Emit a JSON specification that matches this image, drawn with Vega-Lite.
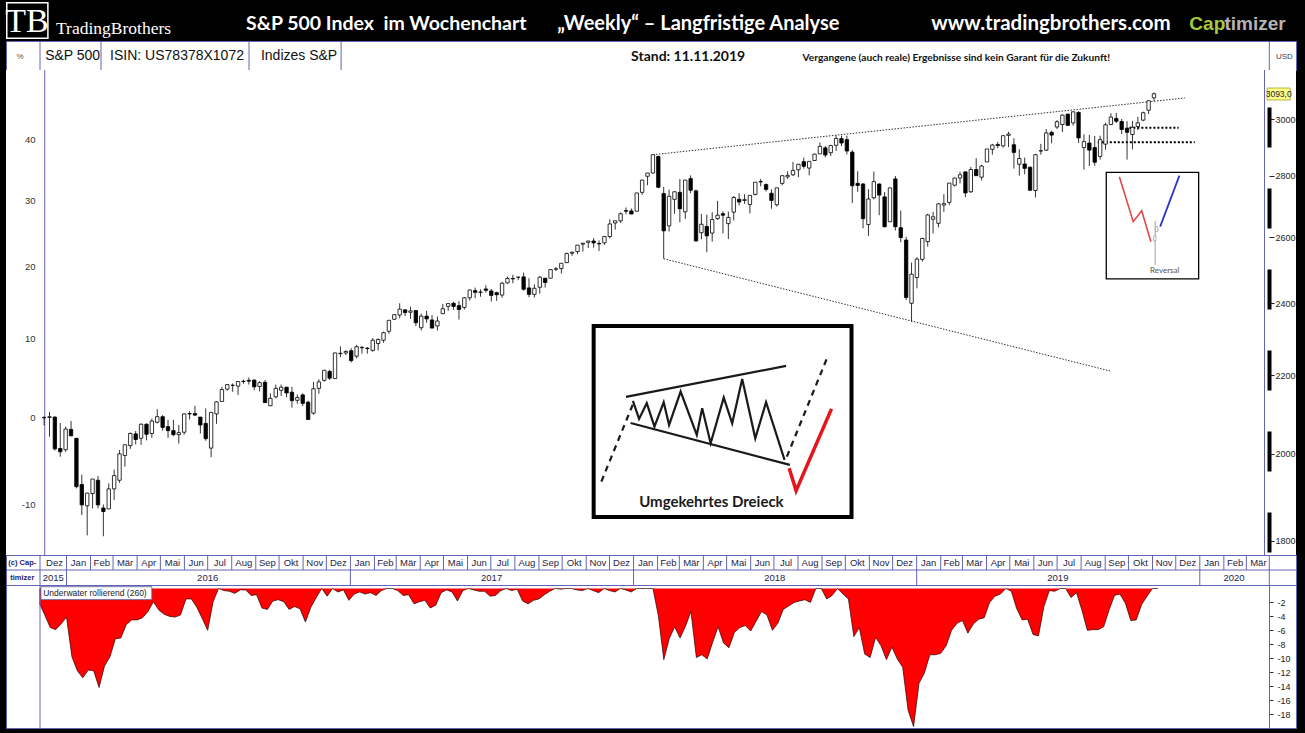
{
"$schema":"https://vega.github.io/schema/vega-lite/v6.json",
"background":"black",
"padding":{"left":5,"right":10,"top":0,"bottom":5},
"spacing":0,
"bounds":"flush",
"config":{"view":{"stroke":null},"axis":{"grid":false,"title":null}},
"datasets":{
"w":[
{"d":"2015-11-27","o":2089,"h":2094,"l":2070,"c":2090,"dd":-2.1},
{"d":"2015-12-04","o":2090,"h":2104,"l":2042,"c":2092,"dd":-3.8},
{"d":"2015-12-11","o":2091,"h":2093,"l":2008,"c":2012,"dd":-5.6},
{"d":"2015-12-18","o":2013,"h":2076,"l":1993,"c":2005,"dd":-5.9},
{"d":"2015-12-25","o":2010,"h":2067,"l":2005,"c":2061,"dd":-5.1},
{"d":"2016-01-01","o":2060,"h":2081,"l":2044,"c":2044,"dd":-4.1},
{"d":"2016-01-08","o":2038,"h":2038,"l":1918,"c":1922,"dd":-9.8},
{"d":"2016-01-15","o":1927,"h":1950,"l":1857,"c":1880,"dd":-11.8},
{"d":"2016-01-22","o":1878,"h":1908,"l":1812,"c":1907,"dd":-12.8},
{"d":"2016-01-29","o":1906,"h":1940,"l":1872,"c":1940,"dd":-11.7},
{"d":"2016-02-05","o":1937,"h":1947,"l":1872,"c":1880,"dd":-11.8},
{"d":"2016-02-12","o":1873,"h":1881,"l":1810,"c":1865,"dd":-14.2},
{"d":"2016-02-19","o":1871,"h":1930,"l":1871,"c":1917,"dd":-11.1},
{"d":"2016-02-26","o":1917,"h":1962,"l":1891,"c":1948,"dd":-9.8},
{"d":"2016-03-04","o":1937,"h":2009,"l":1931,"c":2000,"dd":-7.2},
{"d":"2016-03-11","o":1996,"h":2022,"l":1969,"c":2022,"dd":-7.1},
{"d":"2016-03-18","o":2020,"h":2052,"l":2012,"c":2050,"dd":-5.2},
{"d":"2016-03-25","o":2049,"h":2056,"l":2023,"c":2035,"dd":-4.5},
{"d":"2016-04-01","o":2038,"h":2075,"l":2022,"c":2073,"dd":-4.5},
{"d":"2016-04-08","o":2073,"h":2075,"l":2033,"c":2048,"dd":-4.2},
{"d":"2016-04-15","o":2050,"h":2087,"l":2039,"c":2081,"dd":-3.3},
{"d":"2016-04-22","o":2078,"h":2111,"l":2075,"c":2092,"dd":-1.9},
{"d":"2016-04-29","o":2092,"h":2096,"l":2057,"c":2065,"dd":-3.1},
{"d":"2016-05-06","o":2067,"h":2084,"l":2039,"c":2057,"dd":-3.7},
{"d":"2016-05-13","o":2057,"h":2084,"l":2043,"c":2047,"dd":-4.0},
{"d":"2016-05-20","o":2047,"h":2071,"l":2025,"c":2052,"dd":-4.1},
{"d":"2016-05-27","o":2053,"h":2100,"l":2047,"c":2099,"dd":-3.8},
{"d":"2016-06-03","o":2100,"h":2106,"l":2085,"c":2099,"dd":-1.5},
{"d":"2016-06-10","o":2100,"h":2120,"l":2094,"c":2096,"dd":-1.5},
{"d":"2016-06-17","o":2091,"h":2091,"l":2050,"c":2071,"dd":-2.7},
{"d":"2016-06-24","o":2075,"h":2113,"l":2032,"c":2037,"dd":-4.3},
{"d":"2016-07-01","o":2014,"h":2103,"l":1992,"c":2103,"dd":-6.0},
{"d":"2016-07-08","o":2099,"h":2132,"l":2074,"c":2130,"dd":-1.9},
{"d":"2016-07-15","o":2131,"h":2169,"l":2131,"c":2162,"dd":0},
{"d":"2016-07-22","o":2163,"h":2175,"l":2159,"c":2175,"dd":-0.3},
{"d":"2016-07-29","o":2173,"h":2178,"l":2156,"c":2173,"dd":-0.4},
{"d":"2016-08-05","o":2171,"h":2183,"l":2148,"c":2183,"dd":-0.7},
{"d":"2016-08-12","o":2183,"h":2188,"l":2177,"c":2184,"dd":-0.2},
{"d":"2016-08-19","o":2186,"h":2194,"l":2175,"c":2184,"dd":-0.2},
{"d":"2016-08-26","o":2187,"h":2188,"l":2160,"c":2169,"dd":-1.0},
{"d":"2016-09-02","o":2170,"h":2184,"l":2157,"c":2180,"dd":-0.9},
{"d":"2016-09-09","o":2181,"h":2187,"l":2127,"c":2128,"dd":-2.8},
{"d":"2016-09-16","o":2120,"h":2152,"l":2119,"c":2139,"dd":-3.0},
{"d":"2016-09-23","o":2143,"h":2175,"l":2139,"c":2165,"dd":-1.8},
{"d":"2016-09-30","o":2160,"h":2175,"l":2145,"c":2168,"dd":-1.6},
{"d":"2016-10-07","o":2168,"h":2169,"l":2142,"c":2153,"dd":-1.9},
{"d":"2016-10-14","o":2155,"h":2169,"l":2115,"c":2133,"dd":-3.0},
{"d":"2016-10-21","o":2134,"h":2149,"l":2125,"c":2141,"dd":-2.6},
{"d":"2016-10-28","o":2148,"h":2152,"l":2119,"c":2126,"dd":-2.9},
{"d":"2016-11-04","o":2129,"h":2133,"l":2084,"c":2085,"dd":-4.8},
{"d":"2016-11-11","o":2101,"h":2182,"l":2097,"c":2164,"dd":-2.7},
{"d":"2016-11-18","o":2165,"h":2189,"l":2151,"c":2182,"dd":-1.3},
{"d":"2016-11-25","o":2186,"h":2214,"l":2183,"c":2213,"dd":0},
{"d":"2016-12-02","o":2210,"h":2214,"l":2187,"c":2192,"dd":-1.1},
{"d":"2016-12-09","o":2191,"h":2260,"l":2191,"c":2260,"dd":0},
{"d":"2016-12-16","o":2259,"h":2278,"l":2248,"c":2258,"dd":-0.5},
{"d":"2016-12-23","o":2260,"h":2267,"l":2254,"c":2264,"dd":-0.2},
{"d":"2016-12-30","o":2266,"h":2273,"l":2234,"c":2239,"dd":-1.7},
{"d":"2017-01-06","o":2251,"h":2282,"l":2245,"c":2277,"dd":-0.8},
{"d":"2017-01-13","o":2274,"h":2279,"l":2258,"c":2275,"dd":-0.5},
{"d":"2017-01-20","o":2273,"h":2276,"l":2258,"c":2272,"dd":-0.8},
{"d":"2017-01-27","o":2267,"h":2301,"l":2263,"c":2295,"dd":-0.6},
{"d":"2017-02-03","o":2286,"h":2300,"l":2267,"c":2297,"dd":-1.0},
{"d":"2017-02-10","o":2295,"h":2319,"l":2288,"c":2316,"dd":-0.3},
{"d":"2017-02-17","o":2320,"h":2351,"l":2313,"c":2351,"dd":0},
{"d":"2017-02-24","o":2354,"h":2368,"l":2352,"c":2367,"dd":0},
{"d":"2017-03-03","o":2366,"h":2400,"l":2357,"c":2383,"dd":-0.3},
{"d":"2017-03-10","o":2381,"h":2382,"l":2363,"c":2373,"dd":-1.0},
{"d":"2017-03-17","o":2374,"h":2390,"l":2355,"c":2378,"dd":-0.9},
{"d":"2017-03-24","o":2379,"h":2379,"l":2335,"c":2344,"dd":-2.2},
{"d":"2017-03-31","o":2330,"h":2370,"l":2322,"c":2363,"dd":-1.9},
{"d":"2017-04-07","o":2363,"h":2378,"l":2344,"c":2355,"dd":-1.7},
{"d":"2017-04-14","o":2352,"h":2366,"l":2328,"c":2329,"dd":-2.8},
{"d":"2017-04-21","o":2335,"h":2362,"l":2322,"c":2349,"dd":-2.4},
{"d":"2017-04-28","o":2370,"h":2398,"l":2370,"c":2384,"dd":-0.6},
{"d":"2017-05-05","o":2391,"h":2399,"l":2378,"c":2399,"dd":-0.2},
{"d":"2017-05-12","o":2400,"h":2404,"l":2381,"c":2391,"dd":-0.5},
{"d":"2017-05-19","o":2393,"h":2406,"l":2353,"c":2382,"dd":-1.8},
{"d":"2017-05-26","o":2388,"h":2418,"l":2382,"c":2416,"dd":-0.3},
{"d":"2017-06-02","o":2416,"h":2440,"l":2408,"c":2439,"dd":0},
{"d":"2017-06-09","o":2437,"h":2446,"l":2415,"c":2432,"dd":-0.2},
{"d":"2017-06-16","o":2432,"h":2441,"l":2419,"c":2433,"dd":-0.4},
{"d":"2017-06-23","o":2442,"h":2453,"l":2431,"c":2438,"dd":-0.4},
{"d":"2017-06-30","o":2436,"h":2442,"l":2405,"c":2423,"dd":-1.1},
{"d":"2017-07-07","o":2431,"h":2434,"l":2407,"c":2425,"dd":-1.0},
{"d":"2017-07-14","o":2424,"h":2463,"l":2416,"c":2459,"dd":-0.3},
{"d":"2017-07-21","o":2460,"h":2479,"l":2458,"c":2473,"dd":0},
{"d":"2017-07-28","o":2473,"h":2484,"l":2459,"c":2472,"dd":-0.3},
{"d":"2017-08-04","o":2477,"h":2478,"l":2468,"c":2477,"dd":-0.1},
{"d":"2017-08-11","o":2478,"h":2491,"l":2437,"c":2441,"dd":-1.8},
{"d":"2017-08-18","o":2445,"h":2474,"l":2418,"c":2426,"dd":-2.2},
{"d":"2017-08-25","o":2426,"h":2456,"l":2417,"c":2444,"dd":-1.7},
{"d":"2017-09-01","o":2447,"h":2480,"l":2428,"c":2477,"dd":-1.5},
{"d":"2017-09-08","o":2474,"h":2474,"l":2446,"c":2461,"dd":-0.9},
{"d":"2017-09-15","o":2474,"h":2500,"l":2474,"c":2500,"dd":-0.4},
{"d":"2017-09-22","o":2501,"h":2508,"l":2496,"c":2502,"dd":0},
{"d":"2017-09-29","o":2503,"h":2519,"l":2488,"c":2519,"dd":-0.1},
{"d":"2017-10-06","o":2521,"h":2552,"l":2520,"c":2549,"dd":0},
{"d":"2017-10-13","o":2550,"h":2555,"l":2542,"c":2553,"dd":0},
{"d":"2017-10-20","o":2555,"h":2575,"l":2547,"c":2575,"dd":-0.2},
{"d":"2017-10-27","o":2578,"h":2582,"l":2555,"c":2581,"dd":-0.3},
{"d":"2017-11-03","o":2584,"h":2588,"l":2566,"c":2588,"dd":0},
{"d":"2017-11-10","o":2588,"h":2597,"l":2567,"c":2582,"dd":-0.3},
{"d":"2017-11-17","o":2580,"h":2590,"l":2557,"c":2579,"dd":-0.6},
{"d":"2017-11-24","o":2582,"h":2604,"l":2576,"c":2602,"dd":0},
{"d":"2017-12-01","o":2602,"h":2657,"l":2596,"c":2642,"dd":-0.3},
{"d":"2017-12-08","o":2645,"h":2652,"l":2624,"c":2652,"dd":-0.5},
{"d":"2017-12-15","o":2652,"h":2679,"l":2645,"c":2675,"dd":0},
{"d":"2017-12-22","o":2685,"h":2695,"l":2673,"c":2683,"dd":-0.2},
{"d":"2017-12-29","o":2684,"h":2692,"l":2673,"c":2674,"dd":-0.5},
{"d":"2018-01-05","o":2683,"h":2743,"l":2683,"c":2743,"dd":0},
{"d":"2018-01-12","o":2745,"h":2787,"l":2737,"c":2786,"dd":0},
{"d":"2018-01-19","o":2799,"h":2810,"l":2769,"c":2810,"dd":0},
{"d":"2018-01-26","o":2810,"h":2873,"l":2808,"c":2873,"dd":0},
{"d":"2018-02-02","o":2867,"h":2870,"l":2759,"c":2762,"dd":-3.9},
{"d":"2018-02-09","o":2741,"h":2763,"l":2533,"c":2620,"dd":-10.2},
{"d":"2018-02-16","o":2636,"h":2754,"l":2618,"c":2732,"dd":-7.2},
{"d":"2018-02-23","o":2722,"h":2747,"l":2675,"c":2747,"dd":-5.5},
{"d":"2018-03-02","o":2745,"h":2790,"l":2647,"c":2691,"dd":-7.1},
{"d":"2018-03-09","o":2681,"h":2787,"l":2658,"c":2786,"dd":-5.4},
{"d":"2018-03-16","o":2791,"h":2802,"l":2742,"c":2752,"dd":-3.3},
{"d":"2018-03-23","o":2750,"h":2754,"l":2586,"c":2588,"dd":-9.9},
{"d":"2018-03-30","o":2614,"h":2674,"l":2593,"c":2641,"dd":-9.5},
{"d":"2018-04-06","o":2634,"h":2672,"l":2553,"c":2604,"dd":-10.1},
{"d":"2018-04-13","o":2613,"h":2680,"l":2586,"c":2656,"dd":-7.7},
{"d":"2018-04-20","o":2659,"h":2717,"l":2655,"c":2670,"dd":-5.5},
{"d":"2018-04-27","o":2675,"h":2683,"l":2612,"c":2670,"dd":-7.8},
{"d":"2018-05-04","o":2643,"h":2682,"l":2594,"c":2663,"dd":-8.5},
{"d":"2018-05-11","o":2680,"h":2733,"l":2653,"c":2728,"dd":-6.3},
{"d":"2018-05-18","o":2722,"h":2742,"l":2702,"c":2713,"dd":-5.6},
{"d":"2018-05-25","o":2718,"h":2739,"l":2707,"c":2721,"dd":-5.3},
{"d":"2018-06-01","o":2705,"h":2736,"l":2676,"c":2735,"dd":-6.1},
{"d":"2018-06-08","o":2738,"h":2779,"l":2735,"c":2779,"dd":-4.7},
{"d":"2018-06-15","o":2781,"h":2790,"l":2765,"c":2780,"dd":-3.3},
{"d":"2018-06-22","o":2771,"h":2775,"l":2748,"c":2755,"dd":-3.8},
{"d":"2018-06-29","o":2742,"h":2755,"l":2691,"c":2718,"dd":-6.0},
{"d":"2018-07-06","o":2704,"h":2760,"l":2698,"c":2760,"dd":-5.0},
{"d":"2018-07-13","o":2775,"h":2801,"l":2768,"c":2801,"dd":-3.0},
{"d":"2018-07-20","o":2797,"h":2816,"l":2790,"c":2802,"dd":-2.5},
{"d":"2018-07-27","o":2804,"h":2848,"l":2800,"c":2819,"dd":-2.0},
{"d":"2018-08-03","o":2821,"h":2841,"l":2796,"c":2840,"dd":-1.8},
{"d":"2018-08-10","o":2849,"h":2863,"l":2825,"c":2833,"dd":-1.6},
{"d":"2018-08-17","o":2827,"h":2851,"l":2802,"c":2850,"dd":-2.0},
{"d":"2018-08-24","o":2853,"h":2877,"l":2851,"c":2875,"dd":0},
{"d":"2018-08-31","o":2876,"h":2916,"l":2876,"c":2902,"dd":0},
{"d":"2018-09-07","o":2897,"h":2903,"l":2864,"c":2872,"dd":-1.5},
{"d":"2018-09-14","o":2880,"h":2908,"l":2868,"c":2905,"dd":-1.0},
{"d":"2018-09-21","o":2906,"h":2941,"l":2886,"c":2930,"dd":0},
{"d":"2018-09-28","o":2930,"h":2940,"l":2903,"c":2914,"dd":-0.8},
{"d":"2018-10-05","o":2926,"h":2940,"l":2874,"c":2886,"dd":-1.5},
{"d":"2018-10-12","o":2882,"h":2889,"l":2710,"c":2767,"dd":-6.9},
{"d":"2018-10-19","o":2775,"h":2816,"l":2747,"c":2768,"dd":-5.6},
{"d":"2018-10-26","o":2773,"h":2776,"l":2628,"c":2659,"dd":-9.4},
{"d":"2018-11-02","o":2640,"h":2756,"l":2604,"c":2723,"dd":-9.9},
{"d":"2018-11-09","o":2727,"h":2815,"l":2722,"c":2781,"dd":-7.0},
{"d":"2018-11-16","o":2773,"h":2775,"l":2670,"c":2736,"dd":-8.2},
{"d":"2018-11-23","o":2730,"h":2746,"l":2631,"c":2633,"dd":-10.2},
{"d":"2018-11-30","o":2649,"h":2760,"l":2649,"c":2760,"dd":-8.4},
{"d":"2018-12-07","o":2790,"h":2800,"l":2621,"c":2633,"dd":-10.1},
{"d":"2018-12-14","o":2630,"h":2685,"l":2584,"c":2599,"dd":-11.3},
{"d":"2018-12-21","o":2591,"h":2601,"l":2409,"c":2417,"dd":-17.5},
{"d":"2018-12-28","o":2400,"h":2521,"l":2347,"c":2486,"dd":-19.8},
{"d":"2019-01-04","o":2476,"h":2538,"l":2444,"c":2532,"dd":-13.6},
{"d":"2019-01-11","o":2531,"h":2598,"l":2524,"c":2596,"dd":-12.1},
{"d":"2019-01-18","o":2586,"h":2675,"l":2570,"c":2671,"dd":-9.5},
{"d":"2019-01-25","o":2657,"h":2681,"l":2612,"c":2665,"dd":-9.5},
{"d":"2019-02-01","o":2644,"h":2709,"l":2631,"c":2707,"dd":-9.3},
{"d":"2019-02-08","o":2703,"h":2739,"l":2681,"c":2708,"dd":-8.2},
{"d":"2019-02-15","o":2712,"h":2776,"l":2704,"c":2776,"dd":-6.0},
{"d":"2019-02-22","o":2769,"h":2794,"l":2765,"c":2793,"dd":-5.0},
{"d":"2019-03-01","o":2793,"h":2814,"l":2775,"c":2804,"dd":-4.6},
{"d":"2019-03-08","o":2814,"h":2814,"l":2729,"c":2743,"dd":-6.4},
{"d":"2019-03-15","o":2747,"h":2831,"l":2743,"c":2822,"dd":-5.1},
{"d":"2019-03-22","o":2822,"h":2861,"l":2800,"c":2801,"dd":-4.4},
{"d":"2019-03-29","o":2796,"h":2838,"l":2785,"c":2834,"dd":-4.2},
{"d":"2019-04-05","o":2848,"h":2893,"l":2848,"c":2893,"dd":-2.0},
{"d":"2019-04-12","o":2892,"h":2911,"l":2873,"c":2907,"dd":-1.1},
{"d":"2019-04-19","o":2909,"h":2918,"l":2896,"c":2905,"dd":-0.8},
{"d":"2019-04-26","o":2904,"h":2940,"l":2898,"c":2940,"dd":0},
{"d":"2019-05-03","o":2941,"h":2954,"l":2900,"c":2946,"dd":-0.4},
{"d":"2019-05-10","o":2908,"h":2931,"l":2825,"c":2881,"dd":-2.9},
{"d":"2019-05-17","o":2840,"h":2892,"l":2801,"c":2860,"dd":-4.5},
{"d":"2019-05-24","o":2841,"h":2863,"l":2806,"c":2826,"dd":-4.4},
{"d":"2019-05-31","o":2830,"h":2832,"l":2750,"c":2752,"dd":-6.6},
{"d":"2019-06-07","o":2751,"h":2876,"l":2728,"c":2873,"dd":-6.8},
{"d":"2019-06-14","o":2886,"h":2911,"l":2873,"c":2887,"dd":-2.6},
{"d":"2019-06-21","o":2889,"h":2964,"l":2886,"c":2950,"dd":-0.3},
{"d":"2019-06-28","o":2952,"h":2958,"l":2913,"c":2942,"dd":-0.4},
{"d":"2019-07-05","o":2971,"h":2996,"l":2964,"c":2990,"dd":0},
{"d":"2019-07-12","o":2980,"h":3017,"l":2953,"c":3014,"dd":0},
{"d":"2019-07-19","o":3018,"h":3018,"l":2975,"c":2977,"dd":-1.3},
{"d":"2019-07-26","o":2986,"h":3028,"l":2976,"c":3026,"dd":-0.6},
{"d":"2019-08-02","o":3024,"h":3028,"l":2914,"c":2932,"dd":-3.1},
{"d":"2019-08-09","o":2898,"h":2945,"l":2822,"c":2919,"dd":-6.0},
{"d":"2019-08-16","o":2914,"h":2943,"l":2834,"c":2889,"dd":-5.9},
{"d":"2019-08-23","o":2898,"h":2939,"l":2835,"c":2847,"dd":-5.9},
{"d":"2019-08-30","o":2867,"h":2940,"l":2856,"c":2926,"dd":-5.5},
{"d":"2019-09-06","o":2910,"h":2986,"l":2891,"c":2979,"dd":-3.1},
{"d":"2019-09-13","o":2980,"h":3021,"l":2979,"c":3007,"dd":-1.0},
{"d":"2019-09-20","o":3002,"h":3022,"l":2986,"c":2992,"dd":-0.8},
{"d":"2019-09-27","o":2991,"h":3000,"l":2946,"c":2962,"dd":-2.1},
{"d":"2019-10-04","o":2967,"h":2992,"l":2856,"c":2952,"dd":-4.6},
{"d":"2019-10-11","o":2944,"h":2993,"l":2892,"c":2970,"dd":-4.5},
{"d":"2019-10-18","o":2973,"h":3008,"l":2960,"c":2986,"dd":-2.3},
{"d":"2019-10-25","o":2996,"h":3027,"l":2992,"c":3023,"dd":-1.1},
{"d":"2019-11-01","o":3032,"h":3067,"l":3018,"c":3067,"dd":0},
{"d":"2019-11-08","o":3078,"h":3098,"l":3066,"c":3093,"dd":0}
],
"months":[
{"m":"2015-12-01","lab":"Dez"},
{"m":"2016-01-01","lab":"Jan"},{"m":"2016-02-01","lab":"Feb"},{"m":"2016-03-01","lab":"Mär"},{"m":"2016-04-01","lab":"Apr"},{"m":"2016-05-01","lab":"Mai"},{"m":"2016-06-01","lab":"Jun"},{"m":"2016-07-01","lab":"Jul"},{"m":"2016-08-01","lab":"Aug"},{"m":"2016-09-01","lab":"Sep"},{"m":"2016-10-01","lab":"Okt"},{"m":"2016-11-01","lab":"Nov"},{"m":"2016-12-01","lab":"Dez"},
{"m":"2017-01-01","lab":"Jan"},{"m":"2017-02-01","lab":"Feb"},{"m":"2017-03-01","lab":"Mär"},{"m":"2017-04-01","lab":"Apr"},{"m":"2017-05-01","lab":"Mai"},{"m":"2017-06-01","lab":"Jun"},{"m":"2017-07-01","lab":"Jul"},{"m":"2017-08-01","lab":"Aug"},{"m":"2017-09-01","lab":"Sep"},{"m":"2017-10-01","lab":"Okt"},{"m":"2017-11-01","lab":"Nov"},{"m":"2017-12-01","lab":"Dez"},
{"m":"2018-01-01","lab":"Jan"},{"m":"2018-02-01","lab":"Feb"},{"m":"2018-03-01","lab":"Mär"},{"m":"2018-04-01","lab":"Apr"},{"m":"2018-05-01","lab":"Mai"},{"m":"2018-06-01","lab":"Jun"},{"m":"2018-07-01","lab":"Jul"},{"m":"2018-08-01","lab":"Aug"},{"m":"2018-09-01","lab":"Sep"},{"m":"2018-10-01","lab":"Okt"},{"m":"2018-11-01","lab":"Nov"},{"m":"2018-12-01","lab":"Dez"},
{"m":"2019-01-01","lab":"Jan"},{"m":"2019-02-01","lab":"Feb"},{"m":"2019-03-01","lab":"Mär"},{"m":"2019-04-01","lab":"Apr"},{"m":"2019-05-01","lab":"Mai"},{"m":"2019-06-01","lab":"Jun"},{"m":"2019-07-01","lab":"Jul"},{"m":"2019-08-01","lab":"Aug"},{"m":"2019-09-01","lab":"Sep"},{"m":"2019-10-01","lab":"Okt"},{"m":"2019-11-01","lab":"Nov"},{"m":"2019-12-01","lab":"Dez"},
{"m":"2020-01-01","lab":"Jan"},{"m":"2020-02-01","lab":"Feb"},{"m":"2020-03-01","lab":"Mär"}
],
"years":[
{"yr":"2015","mid":"2015-12-15"},{"yr":"2016","mid":"2016-07-01"},{"yr":"2017","mid":"2017-07-02"},{"yr":"2018","mid":"2018-07-02"},{"yr":"2019","mid":"2019-07-02"},{"yr":"2020","mid":"2020-02-14"}
],
"tl":[
{"g":"top","d":"2018-01-26","p":2873},{"g":"top","d":"2019-12-18","p":3077.3},
{"g":"bot","d":"2018-02-09","p":2533},{"g":"bot","d":"2019-09-12","p":2211}
],
"lv":[
{"from":"2019-10-07","to":"2019-12-10","p":2968.6},
{"from":"2019-08-27","to":"2019-12-31","p":2916.6}
],
"sk":[
{"g":"up","d":"2017-12-22","p":2142.7},{"g":"up","d":"2018-07-18","p":2224.7},
{"g":"lo","d":"2017-12-28","p":2076.2},{"g":"lo","d":"2018-07-23","p":1973.3},
{"g":"zz","d":"2017-12-31","p":2132.4},{"g":"zz","d":"2018-01-08","p":2086.3},{"g":"zz","d":"2018-01-18","p":2126.5},{"g":"zz","d":"2018-01-28","p":2066.9},{"g":"zz","d":"2018-02-09","p":2129.0},{"g":"zz","d":"2018-02-16","p":2071.2},{"g":"zz","d":"2018-03-03","p":2156.5},{"g":"zz","d":"2018-03-24","p":2046.3},{"g":"zz","d":"2018-03-31","p":2113.6},{"g":"zz","d":"2018-04-11","p":2025.8},{"g":"zz","d":"2018-04-28","p":2141.0},{"g":"zz","d":"2018-05-09","p":2075.4},{"g":"zz","d":"2018-05-22","p":2189.9},{"g":"zz","d":"2018-06-08","p":2038.1},{"g":"zz","d":"2018-06-22","p":2129.0},{"g":"zz","d":"2018-07-16","p":1985.3},
{"g":"dl","d":"2017-11-20","p":1933.9},{"g":"dl","d":"2017-12-31","p":2123.9},
{"g":"dr","d":"2018-07-19","p":1993.2},{"g":"dr","d":"2018-09-10","p":2249.9},
{"g":"red","d":"2018-07-22","p":1965.4},{"g":"red","d":"2018-07-31","p":1912.9},{"g":"red","d":"2018-09-15","p":2111.8},
{"g":"rred","d":"2019-09-24","p":2797.6},{"g":"rred","d":"2019-10-12","p":2649.3},{"g":"rred","d":"2019-10-23","p":2684.8},{"g":"rred","d":"2019-11-04","p":2585.9},
{"g":"rblue","d":"2019-11-16","p":2633.3},{"g":"rblue","d":"2019-12-11","p":2801.0}
]
},
"vconcat":[
{
"width":1290,"height":41,
"view":{"fill":"black","stroke":null},
"data":{"values":[{}]},
"layer":[
{"mark":{"type":"rect","fillOpacity":0,"stroke":"white","strokeWidth":1.5},
 "encoding":{"x":{"datum":{"year":2015,"month":10,"date":16,"utc":true},"type":"temporal","scale":{"domain":[{"year":2015,"month":10,"date":15,"utc":true},{"year":2020,"month":5,"date":4,"utc":true}]},"axis":null},
 "x2":{"datum":{"year":2015,"month":12,"date":8,"utc":true}},
 "y":{"datum":0.07,"type":"quantitative","scale":{"domain":[0,1]},"axis":null},
 "y2":{"datum":0.93}}},
{"mark":{"type":"text","text":"TB","font":"Liberation Serif, DejaVu Serif, serif","fontSize":34,"fill":"white","align":"center","dy":1},
 "encoding":{"x":{"datum":{"year":2015,"month":11,"date":11,"utc":true},"type":"temporal","scale":{"domain":[{"year":2015,"month":10,"date":15,"utc":true},{"year":2020,"month":5,"date":4,"utc":true}]},"axis":null}}},
{"mark":{"type":"text","text":"TradingBrothers","font":"Liberation Serif, DejaVu Serif, serif","fontSize":17.5,"fill":"white","align":"left","dy":8},
 "encoding":{"x":{"datum":{"year":2015,"month":12,"date":18,"hours":12,"utc":true},"type":"temporal","scale":{"domain":[{"year":2015,"month":10,"date":15,"utc":true},{"year":2020,"month":5,"date":4,"utc":true}]},"axis":null}}},
{"mark":{"type":"text","text":"S&P 500 Index\u00a0\u00a0im Wochenchart","font":"Lato, Open Sans, sans-serif","fontWeight":"bold","fontSize":19.5,"fill":"white","align":"left","dy":3},
 "encoding":{"x":{"datum":{"year":2016,"month":8,"date":19,"hours":12,"utc":true},"type":"temporal","scale":{"domain":[{"year":2015,"month":10,"date":15,"utc":true},{"year":2020,"month":5,"date":4,"utc":true}]},"axis":null}}},
{"mark":{"type":"text","text":"„Weekly“ – Langfristige Analyse","font":"Lato, Open Sans, sans-serif","fontWeight":"bold","fontSize":20,"fill":"white","align":"left","dy":3},
 "encoding":{"x":{"datum":{"year":2017,"month":9,"date":24,"hours":12,"utc":true},"type":"temporal","scale":{"domain":[{"year":2015,"month":10,"date":15,"utc":true},{"year":2020,"month":5,"date":4,"utc":true}]},"axis":null}}},
{"mark":{"type":"text","text":"www.tradingbrothers.com","font":"Lato, Open Sans, sans-serif","fontWeight":"bold","fontSize":20.5,"fill":"white","align":"left","dy":3},
 "encoding":{"x":{"datum":{"year":2019,"month":1,"date":19,"hours":19,"utc":true},"type":"temporal","scale":{"domain":[{"year":2015,"month":10,"date":15,"utc":true},{"year":2020,"month":5,"date":4,"utc":true}]},"axis":null}}},
{"mark":{"type":"text","text":"Cap","font":"Liberation Sans, Arial, sans-serif","fontWeight":"bold","fontSize":19,"fill":"#a6c93a","align":"left","dy":3},
 "encoding":{"x":{"datum":{"year":2019,"month":12,"date":18,"hours":12,"utc":true},"type":"temporal","scale":{"domain":[{"year":2015,"month":10,"date":15,"utc":true},{"year":2020,"month":5,"date":4,"utc":true}]},"axis":null}}},
{"mark":{"type":"text","text":"timizer","font":"Liberation Sans, Arial, sans-serif","fontWeight":"bold","fontSize":19,"fill":"#b4b4b4","align":"left","dy":3},
 "encoding":{"x":{"datum":{"year":2020,"month":2,"date":1,"hours":17,"utc":true},"type":"temporal","scale":{"domain":[{"year":2015,"month":10,"date":15,"utc":true},{"year":2020,"month":5,"date":4,"utc":true}]},"axis":null}}}
]
},
{
"width":1290,"height":29,
"view":{"fill":"white","stroke":"#6464b4"},
"data":{"values":[{}]},
"layer":[
{"mark":{"type":"rule","color":"#6464b4","strokeWidth":1},"encoding":{"x":{"datum":{"year":2015,"month":11,"date":27,"hours":20,"utc":true},"type":"temporal","scale":{"domain":[{"year":2015,"month":10,"date":15,"utc":true},{"year":2020,"month":5,"date":4,"utc":true}]},"axis":null}}},
{"mark":{"type":"rule","color":"#6464b4","strokeWidth":1},"encoding":{"x":{"datum":{"year":2016,"month":2,"date":14,"hours":12,"utc":true},"type":"temporal","scale":{"domain":[{"year":2015,"month":10,"date":15,"utc":true},{"year":2020,"month":5,"date":4,"utc":true}]},"axis":null}}},
{"mark":{"type":"rule","color":"#6464b4","strokeWidth":1},"encoding":{"x":{"datum":{"year":2016,"month":8,"date":23,"hours":7,"utc":true},"type":"temporal","scale":{"domain":[{"year":2015,"month":10,"date":15,"utc":true},{"year":2020,"month":5,"date":4,"utc":true}]},"axis":null}}},
{"mark":{"type":"rule","color":"#6464b4","strokeWidth":1},"encoding":{"x":{"datum":{"year":2016,"month":12,"date":20,"utc":true},"type":"temporal","scale":{"domain":[{"year":2015,"month":10,"date":15,"utc":true},{"year":2020,"month":5,"date":4,"utc":true}]},"axis":null}}},
{"mark":{"type":"rule","color":"#6464b4","strokeWidth":1},"encoding":{"x":{"datum":{"year":2020,"month":3,"date":30,"hours":14,"utc":true},"type":"temporal","scale":{"domain":[{"year":2015,"month":10,"date":15,"utc":true},{"year":2020,"month":5,"date":4,"utc":true}]},"axis":null}}},
{"mark":{"type":"text","text":"%","font":"Liberation Sans, Arial, sans-serif","fontSize":8,"fill":"#555","dy":1},"encoding":{"x":{"datum":{"year":2015,"month":11,"date":2,"utc":true},"type":"temporal","scale":{"domain":[{"year":2015,"month":10,"date":15,"utc":true},{"year":2020,"month":5,"date":4,"utc":true}]},"axis":null}}},
{"mark":{"type":"text","text":"S&P 500","font":"Liberation Sans, Arial, sans-serif","fontSize":14,"fill":"#111"},"encoding":{"x":{"datum":{"year":2016,"month":1,"date":8,"hours":22,"utc":true},"type":"temporal","scale":{"domain":[{"year":2015,"month":10,"date":15,"utc":true},{"year":2020,"month":5,"date":4,"utc":true}]},"axis":null}}},
{"mark":{"type":"text","text":"ISIN: US78378X1072","font":"Liberation Sans, Arial, sans-serif","fontSize":14,"fill":"#111"},"encoding":{"x":{"datum":{"year":2016,"month":5,"date":22,"hours":12,"utc":true},"type":"temporal","scale":{"domain":[{"year":2015,"month":10,"date":15,"utc":true},{"year":2020,"month":5,"date":4,"utc":true}]},"axis":null}}},
{"mark":{"type":"text","text":"Indizes S&P","font":"Liberation Sans, Arial, sans-serif","fontSize":14,"fill":"#111"},"encoding":{"x":{"datum":{"year":2016,"month":10,"date":26,"hours":19,"utc":true},"type":"temporal","scale":{"domain":[{"year":2015,"month":10,"date":15,"utc":true},{"year":2020,"month":5,"date":4,"utc":true}]},"axis":null}}},
{"mark":{"type":"text","text":"Stand: 11.11.2019","font":"Lato, Open Sans, sans-serif","fontWeight":"bold","fontSize":14,"fill":"#111","dy":1},"encoding":{"x":{"datum":{"year":2018,"month":3,"date":12,"hours":10,"utc":true},"type":"temporal","scale":{"domain":[{"year":2015,"month":10,"date":15,"utc":true},{"year":2020,"month":5,"date":4,"utc":true}]},"axis":null}}},
{"mark":{"type":"text","text":"Vergangene (auch reale) Ergebnisse sind kein Garant für die Zukunft!","font":"Lato, Open Sans, sans-serif","fontWeight":"bold","fontSize":10.2,"fill":"#111","dy":2},"encoding":{"x":{"datum":{"year":2019,"month":2,"date":21,"utc":true},"type":"temporal","scale":{"domain":[{"year":2015,"month":10,"date":15,"utc":true},{"year":2020,"month":5,"date":4,"utc":true}]},"axis":null}}},
{"mark":{"type":"text","text":"USD","font":"Liberation Sans, Arial, sans-serif","fontSize":8,"fill":"#444","dy":1},"encoding":{"x":{"datum":{"year":2020,"month":4,"date":19,"utc":true},"type":"temporal","scale":{"domain":[{"year":2015,"month":10,"date":15,"utc":true},{"year":2020,"month":5,"date":4,"utc":true}]},"axis":null}}}
]
},
{
"width":1290,"height":485,
"view":{"fill":"white","stroke":null},
"resolve":{"axis":{"y":"independent"}},
"layer":[
{"data":{"values":[{}]},"mark":{"type":"rule","color":"#6464b4","strokeWidth":1},"encoding":{"x":{"datum":{"year":2015,"month":11,"date":27,"hours":20,"utc":true},"type":"temporal","scale":{"domain":[{"year":2015,"month":10,"date":15,"utc":true},{"year":2020,"month":5,"date":4,"utc":true}]},"axis":null}}},
{"data":{"values":[{}]},"mark":{"type":"rule","color":"#6464b4","strokeWidth":1},"encoding":{"x":{"datum":{"year":2020,"month":3,"date":30,"hours":14,"utc":true},"type":"temporal","scale":{"domain":[{"year":2015,"month":10,"date":15,"utc":true},{"year":2020,"month":5,"date":4,"utc":true}]},"axis":null}}},
{"data":{"name":"tl"},"mark":{"type":"line","color":"#333","strokeWidth":1,"strokeDash":[1.5,1.5]},
 "encoding":{"x":{"field":"d","type":"temporal","scale":{"domain":[{"year":2015,"month":10,"date":15,"utc":true},{"year":2020,"month":5,"date":4,"utc":true}]},"axis":null},
 "y":{"field":"p","type":"quantitative","scale":{"type":"log","domain":[1769.4,3183.4],"nice":false},"axis":null},
 "detail":{"field":"g"}}},
{"data":{"name":"lv"},"mark":{"type":"rule","color":"#000","strokeWidth":2,"strokeDash":[2,2]},
 "encoding":{"x":{"field":"from","type":"temporal","scale":{"domain":[{"year":2015,"month":10,"date":15,"utc":true},{"year":2020,"month":5,"date":4,"utc":true}]},"axis":null},
 "x2":{"field":"to"},
 "y":{"field":"p","type":"quantitative","scale":{"type":"log","domain":[1769.4,3183.4],"nice":false},"axis":null}}},
{"data":{"name":"w"},"mark":{"type":"rule","color":"#000","strokeWidth":0.8},
 "encoding":{"x":{"field":"d","type":"temporal","scale":{"domain":[{"year":2015,"month":10,"date":15,"utc":true},{"year":2020,"month":5,"date":4,"utc":true}]},"axis":null},
 "y":{"field":"l","type":"quantitative","scale":{"type":"log","domain":[1769.4,3183.4],"nice":false},
   "axis":{"orient":"left","offset":-34,"values":[1881,2090,2299,2508,2717,2926],"labelExpr":"(round((datum.value/2090-1)*100) < 0 ? '-' : '') + abs(round((datum.value/2090-1)*100))","ticks":false,"domain":false,"labelPadding":5,"labelFont":"Liberation Sans, Arial, sans-serif","labelFontSize":9.5,"labelColor":"#333","title":null,"grid":false}},
 "y2":{"field":"h"}}},
{"data":{"name":"w"},"mark":{"type":"bar","width":3.4,"stroke":"#000","strokeWidth":0.8},
 "encoding":{"x":{"field":"d","type":"temporal","scale":{"domain":[{"year":2015,"month":10,"date":15,"utc":true},{"year":2020,"month":5,"date":4,"utc":true}]},"axis":null},
 "y":{"field":"o","type":"quantitative","scale":{"type":"log","domain":[1769.4,3183.4],"nice":false},
   "axis":{"orient":"right","offset":-27,"values":[1800,2000,2200,2400,2600,2800,3000],"format":"d","labelFont":"Liberation Sans, Arial, sans-serif","labelFontSize":9,"labelColor":"#222","tickColor":"#222","tickSize":5,"labelPadding":1,"domainColor":"#000","domainWidth":4,"domainDash":[40,41],"domainDashOffset":78,"title":null,"grid":false,"zindex":1}},
 "y2":{"field":"c"},
 "fill":{"condition":{"test":"datum.c >= datum.o","value":"#ffffff"},"value":"#000000"}}},
{"data":{"values":[{}]},"mark":{"type":"rect","fill":"white","stroke":"#000","strokeWidth":4},
 "encoding":{"x":{"datum":{"year":2017,"month":11,"date":10,"utc":true},"type":"temporal","scale":{"domain":[{"year":2015,"month":10,"date":15,"utc":true},{"year":2020,"month":5,"date":4,"utc":true}]},"axis":null},
 "x2":{"datum":{"year":2018,"month":10,"date":11,"utc":true}},
 "y":{"datum":2335,"type":"quantitative","scale":{"type":"log","domain":[1769.4,3183.4],"nice":false},"axis":null},
 "y2":{"datum":1853}}},
{"data":{"name":"sk"},"transform":[{"filter":{"field":"g","oneOf":["up","lo","zz"]}}],"mark":{"type":"line","color":"#1a1a1a","strokeWidth":2.2},
 "encoding":{"x":{"field":"d","type":"temporal","scale":{"domain":[{"year":2015,"month":10,"date":15,"utc":true},{"year":2020,"month":5,"date":4,"utc":true}]},"axis":null},
 "y":{"field":"p","type":"quantitative","scale":{"type":"log","domain":[1769.4,3183.4],"nice":false},"axis":null},
 "detail":{"field":"g"}}},
{"data":{"name":"sk"},"transform":[{"filter":{"field":"g","oneOf":["dl","dr"]}}],"mark":{"type":"line","color":"#1a1a1a","strokeWidth":2.2,"strokeDash":[6,5]},
 "encoding":{"x":{"field":"d","type":"temporal","scale":{"domain":[{"year":2015,"month":10,"date":15,"utc":true},{"year":2020,"month":5,"date":4,"utc":true}]},"axis":null},
 "y":{"field":"p","type":"quantitative","scale":{"type":"log","domain":[1769.4,3183.4],"nice":false},"axis":null},
 "detail":{"field":"g"}}},
{"data":{"name":"sk"},"transform":[{"filter":{"field":"g","oneOf":["red"]}}],"mark":{"type":"line","color":"#e8141c","strokeWidth":3.5},
 "encoding":{"x":{"field":"d","type":"temporal","scale":{"domain":[{"year":2015,"month":10,"date":15,"utc":true},{"year":2020,"month":5,"date":4,"utc":true}]},"axis":null},
 "y":{"field":"p","type":"quantitative","scale":{"type":"log","domain":[1769.4,3183.4],"nice":false},"axis":null}}},
{"data":{"values":[{}]},"mark":{"type":"text","text":"Umgekehrtes Dreieck","font":"Lato, Open Sans, sans-serif","fontWeight":"bold","fontSize":15,"fill":"#1a1a1a"},
 "encoding":{"x":{"datum":{"year":2018,"month":4,"date":12,"utc":true},"type":"temporal","scale":{"domain":[{"year":2015,"month":10,"date":15,"utc":true},{"year":2020,"month":5,"date":4,"utc":true}]},"axis":null},
 "y":{"datum":1887.5,"type":"quantitative","scale":{"type":"log","domain":[1769.4,3183.4],"nice":false},"axis":null}}},
{"data":{"values":[{}]},"mark":{"type":"rect","fill":"white","stroke":"#000","strokeWidth":1.3},
 "encoding":{"x":{"datum":{"year":2019,"month":9,"date":7,"utc":true},"type":"temporal","scale":{"domain":[{"year":2015,"month":10,"date":15,"utc":true},{"year":2020,"month":5,"date":4,"utc":true}]},"axis":null},
 "x2":{"datum":{"year":2020,"month":1,"date":5,"utc":true}},
 "y":{"datum":2812.5,"type":"quantitative","scale":{"type":"log","domain":[1769.4,3183.4],"nice":false},"axis":null},
 "y2":{"datum":2471.7}}},
{"data":{"name":"sk"},"transform":[{"filter":{"field":"g","oneOf":["rred"]}}],"mark":{"type":"line","color":"#e04848","strokeWidth":1.6},
 "encoding":{"x":{"field":"d","type":"temporal","scale":{"domain":[{"year":2015,"month":10,"date":15,"utc":true},{"year":2020,"month":5,"date":4,"utc":true}]},"axis":null},
 "y":{"field":"p","type":"quantitative","scale":{"type":"log","domain":[1769.4,3183.4],"nice":false},"axis":null}}},
{"data":{"name":"sk"},"transform":[{"filter":{"field":"g","oneOf":["rblue"]}}],"mark":{"type":"line","color":"#2a36c8","strokeWidth":1.8},
 "encoding":{"x":{"field":"d","type":"temporal","scale":{"domain":[{"year":2015,"month":10,"date":15,"utc":true},{"year":2020,"month":5,"date":4,"utc":true}]},"axis":null},
 "y":{"field":"p","type":"quantitative","scale":{"type":"log","domain":[1769.4,3183.4],"nice":false},"axis":null}}},
{"data":{"values":[{}]},"mark":{"type":"rule","color":"#a0a0a0","strokeWidth":1},
 "encoding":{"x":{"datum":{"year":2019,"month":11,"date":9,"hours":12,"utc":true},"type":"temporal","scale":{"domain":[{"year":2015,"month":10,"date":15,"utc":true},{"year":2020,"month":5,"date":4,"utc":true}]},"axis":null},
 "y":{"datum":2652,"type":"quantitative","scale":{"type":"log","domain":[1769.4,3183.4],"nice":false},"axis":null},
 "y2":{"datum":2514}}},
{"data":{"values":[{}]},"mark":{"type":"rect","fill":"white","stroke":"#a0a0a0","strokeWidth":0.8},
 "encoding":{"x":{"datum":{"year":2019,"month":11,"date":7,"hours":12,"utc":true},"type":"temporal","scale":{"domain":[{"year":2015,"month":10,"date":15,"utc":true},{"year":2020,"month":5,"date":4,"utc":true}]},"axis":null},
 "x2":{"datum":{"year":2019,"month":11,"date":10,"hours":12,"utc":true}},
 "y":{"datum":2603.8,"type":"quantitative","scale":{"type":"log","domain":[1769.4,3183.4],"nice":false},"axis":null},
 "y2":{"datum":2588.1}}},
{"data":{"values":[{}]},"mark":{"type":"rect","fill":"white","stroke":"#a0a0a0","strokeWidth":0.8},
 "encoding":{"x":{"datum":{"year":2019,"month":11,"date":10,"utc":true},"type":"temporal","scale":{"domain":[{"year":2015,"month":10,"date":15,"utc":true},{"year":2020,"month":5,"date":4,"utc":true}]},"axis":null},
 "x2":{"datum":{"year":2019,"month":11,"date":13,"utc":true}},
 "y":{"datum":2633.3,"type":"quantitative","scale":{"type":"log","domain":[1769.4,3183.4],"nice":false},"axis":null},
 "y2":{"datum":2617.4}}},
{"data":{"values":[{}]},"mark":{"type":"text","text":"Reversal","font":"Lato, Open Sans, sans-serif","fontSize":8,"fill":"#555"},
 "encoding":{"x":{"datum":{"year":2019,"month":11,"date":22,"utc":true},"type":"temporal","scale":{"domain":[{"year":2015,"month":10,"date":15,"utc":true},{"year":2020,"month":5,"date":4,"utc":true}]},"axis":null},
 "y":{"datum":2496.7,"type":"quantitative","scale":{"type":"log","domain":[1769.4,3183.4],"nice":false},"axis":null}}},
{"data":{"values":[{}]},"mark":{"type":"rect","fill":"#ffff8c","stroke":"#999900","strokeWidth":0.7},
 "encoding":{"x":{"datum":{"year":2020,"month":4,"date":3,"utc":true},"type":"temporal","scale":{"domain":[{"year":2015,"month":10,"date":15,"utc":true},{"year":2020,"month":5,"date":4,"utc":true}]},"axis":null},
 "x2":{"datum":{"year":2020,"month":5,"date":3,"utc":true}},
 "y":{"datum":3114.7,"type":"quantitative","scale":{"type":"log","domain":[1769.4,3183.4],"nice":false},"axis":null},
 "y2":{"datum":3069.8}}},
{"data":{"values":[{}]},"mark":{"type":"text","text":"3093,0","font":"Liberation Sans, Arial, sans-serif","fontSize":8.5,"fill":"#222"},
 "encoding":{"x":{"datum":{"year":2020,"month":4,"date":18,"utc":true},"type":"temporal","scale":{"domain":[{"year":2015,"month":10,"date":15,"utc":true},{"year":2020,"month":5,"date":4,"utc":true}]},"axis":null},
 "y":{"datum":3093,"type":"quantitative","scale":{"type":"log","domain":[1769.4,3183.4],"nice":false},"axis":null}}}
]
},
{
"width":1290,"height":30,
"view":{"fill":"white","stroke":"#6464b4"},
"layer":[
{"data":{"name":"months"},"mark":{"type":"text","font":"Liberation Sans, Arial, sans-serif","fontSize":9.5,"fill":"#1e1e46"},
 "encoding":{"x":{"field":"m","type":"temporal","timeUnit":"utcyearmonth","bandPosition":0.5,"scale":{"domain":[{"year":2015,"month":10,"date":15,"utc":true},{"year":2020,"month":5,"date":4,"utc":true}]},"axis":null},
 "y":{"datum":1.5,"type":"quantitative","scale":{"domain":[0,2]},"axis":null},
 "text":{"field":"lab"}}},
{"data":{"name":"months"},"transform":[{"filter":"utcyear(datum.m) > 2015"}],"mark":{"type":"rule","color":"#6464b4","strokeWidth":1},
 "encoding":{"x":{"field":"m","type":"temporal","scale":{"domain":[{"year":2015,"month":10,"date":15,"utc":true},{"year":2020,"month":5,"date":4,"utc":true}]},"axis":null},
 "y":{"datum":1,"type":"quantitative","scale":{"domain":[0,2]},"axis":null},
 "y2":{"datum":2}}},
{"data":{"name":"months"},"transform":[{"filter":"datum.lab == 'Jan'"}],"mark":{"type":"rule","color":"#6464b4","strokeWidth":1},
 "encoding":{"x":{"field":"m","type":"temporal","scale":{"domain":[{"year":2015,"month":10,"date":15,"utc":true},{"year":2020,"month":5,"date":4,"utc":true}]},"axis":null},
 "y":{"datum":0,"type":"quantitative","scale":{"domain":[0,2]},"axis":null},
 "y2":{"datum":1}}},
{"data":{"name":"years"},"mark":{"type":"text","font":"Liberation Sans, Arial, sans-serif","fontSize":9.5,"fill":"#1e1e46"},
 "encoding":{"x":{"field":"mid","type":"temporal","scale":{"domain":[{"year":2015,"month":10,"date":15,"utc":true},{"year":2020,"month":5,"date":4,"utc":true}]},"axis":null},
 "y":{"datum":0.5,"type":"quantitative","scale":{"domain":[0,2]},"axis":null},
 "text":{"field":"yr"}}},
{"data":{"values":[{}]},"mark":{"type":"rule","color":"#6464b4","strokeWidth":1},
 "encoding":{"y":{"datum":1,"type":"quantitative","scale":{"domain":[0,2]},"axis":null}}},
{"data":{"values":[{}]},"mark":{"type":"rule","color":"#6464b4","strokeWidth":1},"encoding":{"x":{"datum":{"year":2015,"month":11,"date":27,"hours":20,"utc":true},"type":"temporal","scale":{"domain":[{"year":2015,"month":10,"date":15,"utc":true},{"year":2020,"month":5,"date":4,"utc":true}]},"axis":null}}},
{"data":{"values":[{}]},"mark":{"type":"rule","color":"#6464b4","strokeWidth":1},"encoding":{"x":{"datum":{"year":2020,"month":3,"date":30,"hours":14,"utc":true},"type":"temporal","scale":{"domain":[{"year":2015,"month":10,"date":15,"utc":true},{"year":2020,"month":5,"date":4,"utc":true}]},"axis":null}}},
{"data":{"values":[{}]},"mark":{"type":"text","text":"(c) Cap-","font":"Liberation Sans, Arial, sans-serif","fontSize":7.5,"fontWeight":"bold","fill":"#1a1a6e"},
 "encoding":{"x":{"datum":{"year":2015,"month":11,"date":5,"utc":true},"type":"temporal","scale":{"domain":[{"year":2015,"month":10,"date":15,"utc":true},{"year":2020,"month":5,"date":4,"utc":true}]},"axis":null},
 "y":{"datum":1.5,"type":"quantitative","scale":{"domain":[0,2]},"axis":null}}},
{"data":{"values":[{}]},"mark":{"type":"text","text":"timizer","font":"Liberation Sans, Arial, sans-serif","fontSize":7.5,"fontWeight":"bold","fill":"#1a1a6e"},
 "encoding":{"x":{"datum":{"year":2015,"month":11,"date":5,"utc":true},"type":"temporal","scale":{"domain":[{"year":2015,"month":10,"date":15,"utc":true},{"year":2020,"month":5,"date":4,"utc":true}]},"axis":null},
 "y":{"datum":0.5,"type":"quantitative","scale":{"domain":[0,2]},"axis":null}}}
]
},
{
"width":1290,"height":143,
"view":{"fill":"white","stroke":"#6464b4"},
"resolve":{"axis":{"y":"independent"}},
"layer":[
{"data":{"name":"w"},"mark":{"type":"area","color":"#ff0000","opacity":1,"fillOpacity":1,"line":{"color":"#2a0000","strokeWidth":0.7}},
 "encoding":{"x":{"field":"d","type":"temporal","scale":{"domain":[{"year":2015,"month":10,"date":15,"utc":true},{"year":2020,"month":5,"date":4,"utc":true}]},"axis":null},
 "y":{"field":"dd","type":"quantitative","scale":{"domain":[-20,0.5],"nice":false,"zero":false},
   "axis":{"orient":"right","offset":-27,"values":[-2,-4,-6,-8,-10,-12,-14,-16,-18],"labelExpr":"'-' + abs(datum.value)","labelFont":"Liberation Sans, Arial, sans-serif","labelFontSize":9,"labelColor":"#222","tickColor":"#333","tickSize":4,"labelPadding":4,"domainColor":"#6464b4","title":null,"grid":false}},
 "y2":{"datum":0}}},
{"data":{"values":[{}]},"mark":{"type":"rule","color":"#6464b4","strokeWidth":1},"encoding":{"x":{"datum":{"year":2015,"month":11,"date":27,"hours":20,"utc":true},"type":"temporal","scale":{"domain":[{"year":2015,"month":10,"date":15,"utc":true},{"year":2020,"month":5,"date":4,"utc":true}]},"axis":null}}},
{"data":{"values":[{}]},"mark":{"type":"rect","fill":"white","stroke":"#50509a","strokeWidth":0.8},
 "encoding":{"x":{"datum":{"year":2015,"month":11,"date":29,"utc":true},"type":"temporal","scale":{"domain":[{"year":2015,"month":10,"date":15,"utc":true},{"year":2020,"month":5,"date":4,"utc":true}]},"axis":null},
 "x2":{"datum":{"year":2016,"month":4,"date":20,"utc":true}},
 "y":{"datum":0.26,"type":"quantitative","scale":{"domain":[-20,0.5],"nice":false,"zero":false},"axis":null},
 "y2":{"datum":-1.6}}},
{"data":{"values":[{}]},"mark":{"type":"text","text":"Underwater rollierend (260)","font":"Liberation Sans, Arial, sans-serif","fontSize":8.5,"fill":"#222","align":"left"},
 "encoding":{"x":{"datum":{"year":2015,"month":12,"date":2,"utc":true},"type":"temporal","scale":{"domain":[{"year":2015,"month":10,"date":15,"utc":true},{"year":2020,"month":5,"date":4,"utc":true}]},"axis":null},
 "y":{"datum":-0.67,"type":"quantitative","scale":{"domain":[-20,0.5],"nice":false,"zero":false},"axis":null}}}
]
}
]
}
